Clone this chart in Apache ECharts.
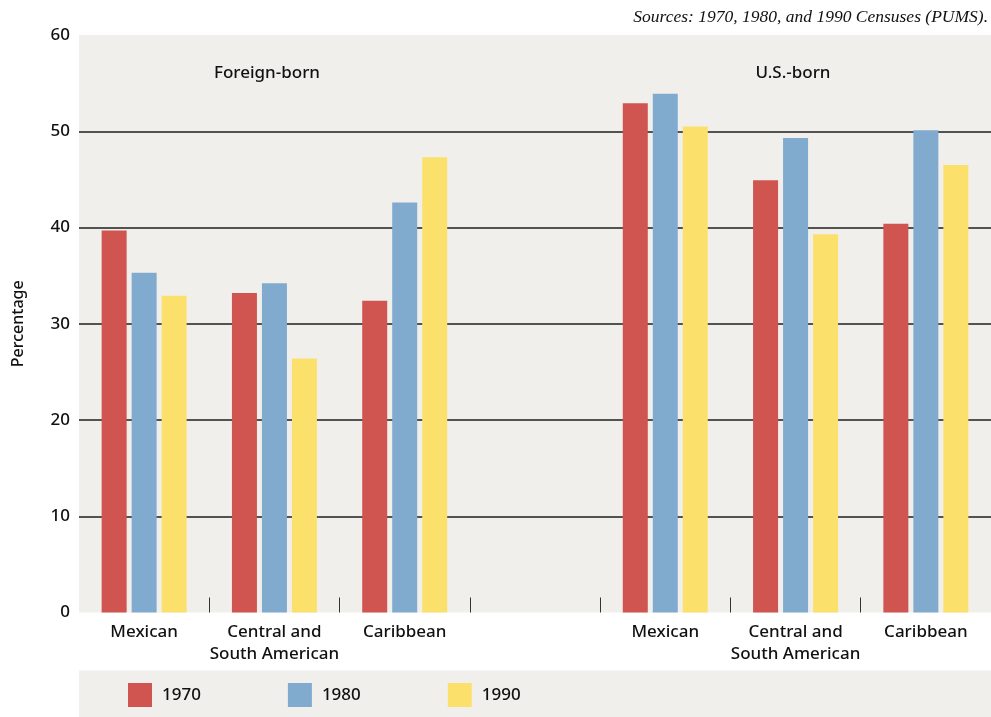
<!DOCTYPE html>
<html>
<head>
<meta charset="utf-8">
<script src="https://cdn.jsdelivr.net/npm/echarts@6/dist/echarts.min.js"></script>
<style>
html,body{margin:0;padding:0;background:#fff;}
#chart{width:991px;height:717px;}
</style>
</head>
<body>
<div id="chart"></div>
<script>
// Data
const categories = ['Mexican', 'Central and\nSouth American', 'Caribbean', '', 'Mexican', 'Central and\nSouth American', 'Caribbean'];
const seriesNames = ['1970', '1980', '1990'];
const values1970 = [39.7, 33.2, 32.4, null, 52.9, 44.9, 40.4];
const values1980 = [35.3, 34.2, 42.6, null, 53.9, 49.3, 50.1];
const values1990 = [32.9, 26.4, 47.3, null, 50.5, 39.3, 46.5];
const yTicks = [0, 10, 20, 30, 40, 50, 60];
const groupLabels = ['Foreign-born', 'U.S.-born'];
const sourceNote = 'Sources: 1970, 1980, and 1990 Censuses (PUMS).';

const colors = ['#d05450', '#81abce', '#fbe16b'];
const FONT = '"Noto Sans", sans-serif';
const FW = 500;
const chart = echarts.init(document.getElementById('chart'));

const mk = (name, data, color) => ({
  name, type: 'bar', data, barWidth: 25, barGap: '20%',
  itemStyle: { color }, z: 3
});

chart.setOption({
  animation: false,
  color: colors,
  grid: { left: 79, right: 0, top: 35, bottom: 104.5, show: true, backgroundColor: '#f0efeb', borderWidth: 0 },
  graphic: [
    { type: 'rect', left: 79, top: 670.5, shape: { width: 912, height: 47 }, style: { fill: '#f0efeb' }, z: -1 },
    { type: 'text', right: 3, top: 8, style: { text: sourceNote, font: 'italic 17.5px "Liberation Serif", serif', fill: '#111' } },
    { type: 'text', x: 267, y: 73, style: { text: groupLabels[0], font: FW + ' 17px ' + FONT, fill: '#111', align: 'center', verticalAlign: 'middle' }, z: 10 },
    { type: 'text', x: 793, y: 73, style: { text: groupLabels[1], font: FW + ' 17px ' + FONT, fill: '#111', align: 'center', verticalAlign: 'middle' }, z: 10 }
  ],
  legend: {
    left: 128, top: 683, padding: 0, itemWidth: 24, itemHeight: 24, icon: 'rect', itemGap: 87,
    data: seriesNames,
    textStyle: { fontFamily: FONT, fontWeight: FW, fontSize: 17, color: '#111', padding: [0, 0, 0, 5] }
  },
  xAxis: {
    type: 'category', data: categories,
    axisLine: { show: false },
    axisTick: { show: true, inside: true, length: 15, lineStyle: { color: '#333', width: 1 }, interval: (i) => i > 0 },
    axisLabel: { interval: 0, margin: 9, fontFamily: FONT, fontWeight: FW, fontSize: 17, color: '#111', lineHeight: 22 }
  },
  yAxis: {
    type: 'value', min: 0, max: 60, interval: 10,
    name: 'Percentage', nameLocation: 'middle', nameGap: 53,
    nameTextStyle: { fontFamily: FONT, fontWeight: FW, fontSize: 16, color: '#111' },
    axisLine: { show: false }, axisTick: { show: false },
    axisLabel: { margin: 9, fontFamily: FONT, fontWeight: FW, fontSize: 17, color: '#111', formatter: (v) => yTicks.includes(v) ? String(v) : '' },
    splitLine: { show: true, showMinLine: false, showMaxLine: false, lineStyle: { color: '#1e1e1e', width: 1.5 } }
  },
  series: [
    mk(seriesNames[0], values1970, colors[0]),
    mk(seriesNames[1], values1980, colors[1]),
    mk(seriesNames[2], values1990, colors[2])
  ]
});
</script>
</body>
</html>
